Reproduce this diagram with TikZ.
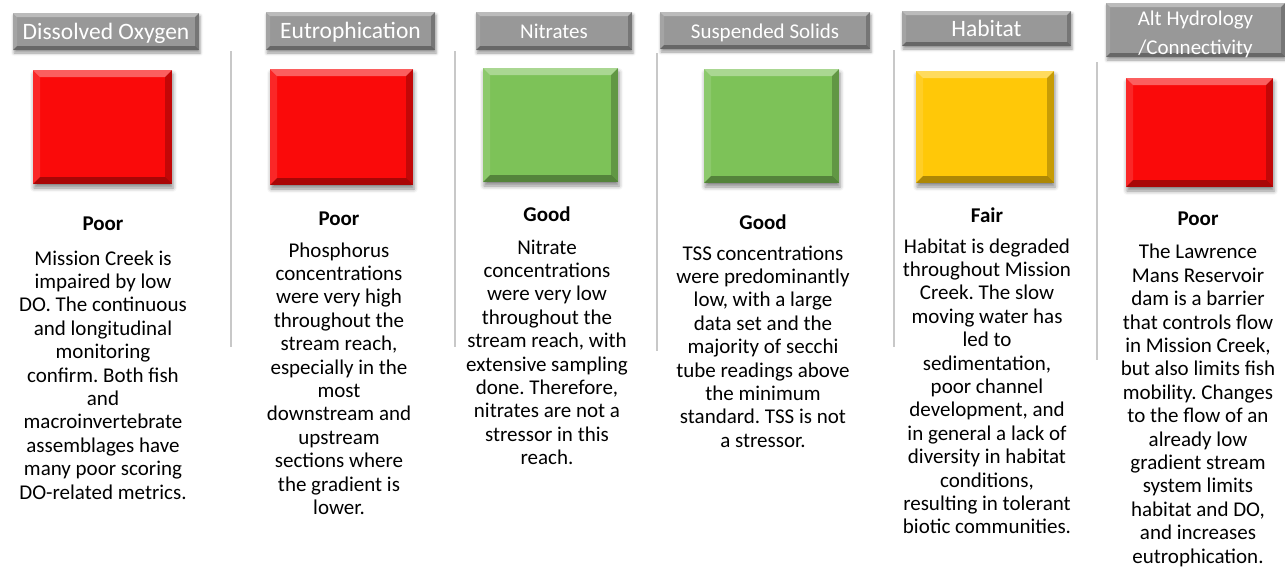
\documentclass[tikz,border=0pt]{standalone}
\usepackage{fontspec}
\setmainfont{Carlito}
\usetikzlibrary{shadows.blur}
\frenchspacing

\definecolor{poorred}{RGB}{250,10,10}
\definecolor{goodgreen}{RGB}{125,194,88}
\definecolor{fairyellow}{RGB}{255,200,8}
\definecolor{hdrgrey}{RGB}{152,152,152}
\definecolor{sepgrey}{RGB}{200,200,200}

\begin{document}
\begin{tikzpicture}[x=1pt,y=-1pt,
    bevel/.style={path picture={
        \coordinate (bsw) at (path picture bounding box.south west);
        \coordinate (bse) at (path picture bounding box.south east);
        \coordinate (bnw) at (path picture bounding box.north west);
        \coordinate (bne) at (path picture bounding box.north east);
        \fill[white,opacity=.35] (bnw) -- (bne) -- ([shift={(-#1,-#1)}]bne) -- ([shift={(#1,-#1)}]bnw) -- cycle;
        \fill[white,opacity=.12] (bnw) -- (bsw) -- ([shift={(#1,#1)}]bsw) -- ([shift={(#1,-#1)}]bnw) -- cycle;
        \fill[black,opacity=.22] (bne) -- (bse) -- ([shift={(-#1,#1)}]bse) -- ([shift={(-#1,-#1)}]bne) -- cycle;
        \fill[black,opacity=.32] (bsw) -- (bse) -- ([shift={(-#1,#1)}]bse) -- ([shift={(#1,#1)}]bsw) -- cycle;
      }},
    header/.style={fill=hdrgrey, text=white, inner sep=0pt, bevel=4pt,
      blur shadow={shadow xshift=1pt, shadow yshift=-3pt, shadow blur radius=3pt, shadow opacity=40},
      text height=17pt, text depth=2pt, font=\fontsize{23.5pt}{28pt}\selectfont},
    small/.style={font=\fontsize{21pt}{29pt}\selectfont},
    ratebox/.style={fill=#1, inner sep=0pt, bevel=7pt,
      blur shadow={shadow xshift=1pt, shadow yshift=-4pt, shadow blur radius=4pt, shadow opacity=45}},
    rating/.style={anchor=base, inner sep=0pt, font=\bfseries\fontsize{21pt}{23.4pt}\selectfont},
    body/.style={anchor=base, align=center, inner sep=0pt, font=\fontsize{21pt}{23.4pt}\selectfont},
    sep/.style={draw=sepgrey, line width=1.2pt}
  ]
  \useasboundingbox (0,0) rectangle (1285,566);

  \draw[sep] (231,51) -- (231,347);
  \draw[sep] (455,51) -- (455,347);
  \draw[sep] (657,53) -- (657,351);
  \draw[sep] (894,50) -- (894,347);
  \draw[sep] (1097,62) -- (1097,360);

  \node[header, minimum width=186pt, minimum height=37pt] (hdrDO) at (106,31.5) {Dissolved Oxygen};
  \node[header, minimum width=169pt, minimum height=38pt] (hdrEu) at (350.5,31) {Eutrophication};
  \node[header, small, minimum width=156pt, minimum height=38pt] (hdrNi) at (554,31) {Nitrates};
  \node[header, small, minimum width=210pt, minimum height=37pt] (hdrSS) at (765,30.5) {Suspended Solids};
  \node[header, minimum width=169pt, minimum height=35pt] (hdrHa) at (986.5,28.5) {Habitat};
  \node[header, small, align=center, text height=50pt, text depth=2pt,
    minimum width=179pt, minimum height=54pt] (hdrAH) at (1195.5,30) {Alt Hydrology\\/Connectivity};

  \node[ratebox=poorred, minimum width=139pt, minimum height=114pt] (boxDO) at (102.5,127) {};
  \node[ratebox=poorred, minimum width=143pt, minimum height=116pt] (boxEu) at (341.5,127) {};
  \node[ratebox=goodgreen, minimum width=135pt, minimum height=114pt] (boxNi) at (550.5,125) {};
  \node[ratebox=goodgreen, minimum width=135pt, minimum height=114pt] (boxSS) at (771.5,126) {};
  \node[ratebox=fairyellow, minimum width=138pt, minimum height=112pt] (boxHa) at (985,127) {};
  \node[ratebox=poorred, minimum width=147pt, minimum height=109pt] (boxAH) at (1199.5,132.5) {};

  \node[rating] (rateDO) at (103,230) {Poor};
  \node[rating] (rateEu) at (339,225) {Poor};
  \node[rating] (rateNi) at (547,221) {Good};
  \node[rating] (rateSS) at (763,229) {Good};
  \node[rating] (rateHa) at (987,222) {Fair};
  \node[rating] (rateAH) at (1198,225) {Poor};

  % body texts sit on the baseline of their last line
  \node[body] (txtDO) at (103,499) {Mission Creek is\\impaired by low\\DO. The continuous\\and longitudinal\\monitoring\\confirm. Both fish\\and\\macroinvertebrate\\assemblages have\\many poor scoring\\DO-related metrics.};
  \node[body] (txtEu) at (339,514.4) {Phosphorus\\concentrations\\were very high\\throughout the\\stream reach,\\especially in the\\most\\downstream and\\upstream\\sections where\\the gradient is\\lower.};
  \node[body] (txtNi) at (547,464.6) {Nitrate\\concentrations\\were very low\\throughout the\\stream reach, with\\extensive sampling\\done. Therefore,\\nitrates are not a\\stressor in this\\reach.};
  \node[body] (txtSS) at (763,447.2) {TSS concentrations\\were predominantly\\low, with a large\\data set and the\\majority of secchi\\tube readings above\\the minimum\\standard. TSS is not\\a stressor.};
  \node[body] (txtHa) at (987,533.8) {Habitat is degraded\\throughout Mission\\Creek. The slow\\moving water has\\led to\\sedimentation,\\poor channel\\development, and\\in general a lack of\\diversity in habitat\\conditions,\\resulting in tolerant\\biotic communities.};
  \node[body] (txtAH) at (1198,563) {The Lawrence\\Mans Reservoir\\dam is a barrier\\that controls flow\\in Mission Creek,\\but also limits fish\\mobility. Changes\\to the flow of an\\already low\\gradient stream\\system limits\\habitat and DO,\\and increases\\eutrophication.};
\end{tikzpicture}
\end{document}
